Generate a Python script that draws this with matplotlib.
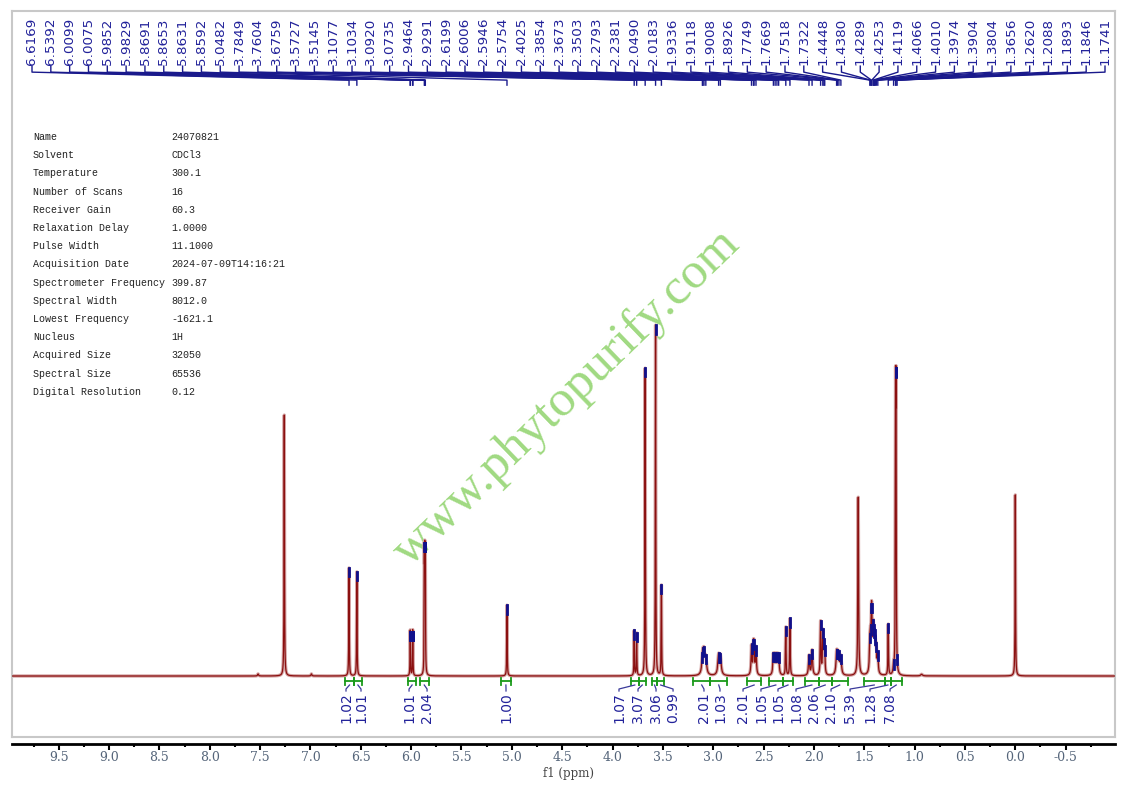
import numpy as np
import matplotlib
matplotlib.use('Agg')
import matplotlib.pyplot as plt
from matplotlib.ticker import MultipleLocator, FormatStrFormatter

# 谱图参数表
param_names = ['Name', 'Solvent', 'Temperature', 'Number of Scans', 'Receiver Gain',
               'Relaxation Delay', 'Pulse Width', 'Acquisition Date',
               'Spectrometer Frequency', 'Spectral Width', 'Lowest Frequency',
               'Nucleus', 'Acquired Size', 'Spectral Size', 'Digital Resolution']
param_values = ['24070821', 'CDCl3', '300.1', '16', '60.3', '1.0000', '11.1000',
                '2024-07-09T14:16:21', '399.87', '8012.0', '-1621.1', '1H',
                '32050', '65536', '0.12']

# 峰位 (ppm) 和峰顶高度 (最高峰 = 100)
pick_ppm = [6.6169, 6.5392, 6.0099, 6.0075, 5.9852, 5.9829, 5.8691, 5.8653, 5.8631, 5.8592,
            5.0482, 3.7849, 3.7604, 3.6759, 3.5727, 3.5145, 3.1077, 3.1034, 3.0920, 3.0735,
            2.9464, 2.9291, 2.6199, 2.6006, 2.5946, 2.5754, 2.4025, 2.3854, 2.3673, 2.3503,
            2.2793, 2.2381, 2.0490, 2.0183, 1.9336, 1.9118, 1.9008, 1.8926, 1.7749, 1.7669,
            1.7518, 1.7322, 1.4448, 1.4380, 1.4289, 1.4253, 1.4119, 1.4066, 1.4010, 1.3974,
            1.3904, 1.3804, 1.3656, 1.2620, 1.2088, 1.1893, 1.1846, 1.1741]
pick_top = [30.8, 29.7, 12.6, 12.6, 12.6, 12.6, 38.0, 38.0, 38.0, 38.0,
            20.2, 13.0, 12.3, 87.8, 100.0, 26.0, 6.5, 8.0, 8.3, 6.0,
            6.5, 6.3, 9.0, 10.3, 10.2, 8.5, 6.6, 6.6, 6.6, 6.5,
            14.0, 16.4, 6.0, 7.5, 15.8, 13.4, 10.5, 8.5, 7.4, 7.4,
            7.2, 6.0, 12.0, 14.5, 20.5, 20.5, 16.0, 14.5, 13.5, 13.0,
            11.5, 9.5, 7.0, 14.8, 4.5, 87.5, 87.5, 3.0]
pick_width = [0.0025, 0.0025, 0.002, 0.002, 0.002, 0.002, 0.002, 0.002, 0.002, 0.002,
              0.0025, 0.0025, 0.0025, 0.0025, 0.0025, 0.0025, 0.009, 0.009, 0.009, 0.009,
              0.009, 0.009, 0.005, 0.005, 0.005, 0.005, 0.006, 0.006, 0.006, 0.006,
              0.003, 0.003, 0.006, 0.006, 0.004, 0.004, 0.004, 0.004, 0.007, 0.007,
              0.007, 0.007, 0.005, 0.005, 0.005, 0.005, 0.005, 0.005, 0.005, 0.005,
              0.005, 0.005, 0.005, 0.003, 0.005, 0.0025, 0.0025, 0.004]

# 未标注的峰: 溶剂, 水, TMS, 卫星峰
extra_ppm = [7.52, 7.26, 6.99, 1.56, 0.93, 0.0]
extra_top = [0.6, 74.4, 0.6, 51.0, 0.5, 51.6]
extra_width = [0.005, 0.0025, 0.005, 0.004, 0.01, 0.0025]

# 积分区间
int_from = [6.653, 6.571, 6.034, 5.915, 5.112, 3.820, 3.738, 3.611, 3.555, 3.197,
            3.032, 2.660, 2.445, 2.312, 2.087, 1.954, 1.822, 1.507, 1.295, 1.236]
int_to = [6.571, 6.487, 5.947, 5.825, 5.006, 3.738, 3.671, 3.555, 3.489, 3.032,
          2.859, 2.528, 2.312, 2.203, 1.954, 1.822, 1.666, 1.295, 1.236, 1.129]
int_value = ['1.02', '1.01', '1.01', '2.04', '1.00', '1.07', '3.07', '3.06', '0.99', '2.01',
             '1.03', '2.01', '1.05', '1.05', '1.08', '2.06', '2.10', '5.39', '1.28', '7.08']
int_label_ppm = [6.647, 6.498, 6.021, 5.842, 5.058, 3.936, 3.747, 3.568, 3.399, 3.092,
                 2.933, 2.704, 2.526, 2.357, 2.178, 1.999, 1.830, 1.641, 1.443, 1.244]

x_left, x_right = 9.964, -0.99
y_bot, y_top = -17.38, 189.5
k = 100 / 351.0  # 每像素高度

# 洛伦兹线形
ppm = np.linspace(x_right, x_left, 40000)
all_ppm = np.array(pick_ppm + extra_ppm)
all_top = np.array(pick_top + extra_top)
all_w = np.array(pick_width + extra_width)
A = 1 / (1 + ((all_ppm[:, None] - all_ppm[None, :]) / all_w[None, :]) ** 2)
amp = np.linalg.lstsq(A, all_top, rcond=None)[0]
amp = np.clip(amp, 0, None)
spec = np.zeros_like(ppm)
for p, a, w in zip(all_ppm, amp, all_w):
    spec += a / (1 + ((ppm - p) / w) ** 2)


def spec_at(p):
    return np.sum(amp / (1 + ((p - all_ppm) / all_w) ** 2))


fig = plt.figure(figsize=(11.25, 7.88), dpi=100)
ax = fig.add_axes([12 / 1125, 51 / 788, 1103 / 1125, 726 / 788])
ax.set_xlim(x_left, x_right)
ax.set_ylim(y_bot, y_top)

for s in ['left', 'right', 'top']:
    ax.spines[s].set_color('#c8c8c8')
    ax.spines[s].set_linewidth(1.5)
ax.spines['bottom'].set_position(('outward', 5))
ax.spines['bottom'].set_linewidth(2)
ax.plot([0, 1], [0, 0], transform=ax.transAxes, color='#c8c8c8', lw=1.5, clip_on=False)
ax.yaxis.set_visible(False)
ax.xaxis.set_major_locator(MultipleLocator(0.5))
ax.xaxis.set_minor_locator(MultipleLocator(0.25))
ax.xaxis.set_major_formatter(FormatStrFormatter('%.1f'))
ax.tick_params(axis='x', which='major', length=4, width=1.5, pad=1,
               labelsize=9, labelcolor='#55657a')
ax.tick_params(axis='x', which='minor', length=2.5, width=1.5)
for t in ax.get_xticklabels():
    t.set_family('DejaVu Serif')
fig.text(568 / 1125, 15 / 788, 'f1 (ppm)', ha='center', va='center',
         family='DejaVu Serif', fontsize=8.5, color='#444444')

# 水印
ax.text(0.503, 0.467, 'www.phytopurify.com', transform=ax.transAxes, rotation=44,
        ha='center', va='center', family='Liberation Serif', fontsize=37,
        color='#8fd36b', alpha=0.85, zorder=1)

# 谱线
ax.plot(ppm, spec, color='#d4a4a4', lw=2.4, zorder=2)
ax.plot(ppm, spec, color='#8b1010', lw=0.9, zorder=3)

# 峰标记
for p in pick_ppm:
    yv = spec_at(p)
    ax.plot([p, p], [yv, yv - 2.4], color='#10108c', lw=2, zorder=4)

# 顶部峰位标签
lab_x = np.linspace(x_left - (20 / 1103) * (x_left - x_right),
                    x_left - (1093 / 1103) * (x_left - x_right), len(pick_ppm))


def py(pix):
    return (676 - pix) * k


for xl, p in zip(lab_x, pick_ppm):
    ax.text(xl, py(65), '%.4f' % p, rotation=90, ha='center', va='bottom',
            fontsize=9.7, color='#22229a', clip_on=False)
    ax.plot([xl, xl, p, p], [py(66), py(72), py(80), py(85)],
            color='#1a1a8c', lw=1, clip_on=False)

# 积分
for a, b, v, xl in zip(int_from, int_to, int_value, int_label_ppm):
    ax.plot([a, b], [py(681), py(681)], color='#1a9a1a', lw=1.3)
    for e in (a, b):
        ax.plot([e, e], [py(678), py(685)], color='#1a9a1a', lw=1.3)
    xm = (a + b) / 2
    ax.plot([xm, xl, xl], [py(685), py(689), py(691)], color='#3a3a9a', lw=0.9)
    ax.text(xl, py(692), v, rotation=90, ha='center', va='top',
            fontsize=10, color='#22229a')

# 参数表
for i, (n, v) in enumerate(zip(param_names, param_values)):
    yy = 0.8264 - i * 0.02507
    ax.text(0.019, yy, n, transform=ax.transAxes, family='Liberation Mono',
            fontsize=7.2, color='#222222', va='center')
    ax.text(0.1442, yy, v, transform=ax.transAxes, family='Liberation Mono',
            fontsize=7.2, color='#222222', va='center')

fig.savefig('out.png', dpi=100)
